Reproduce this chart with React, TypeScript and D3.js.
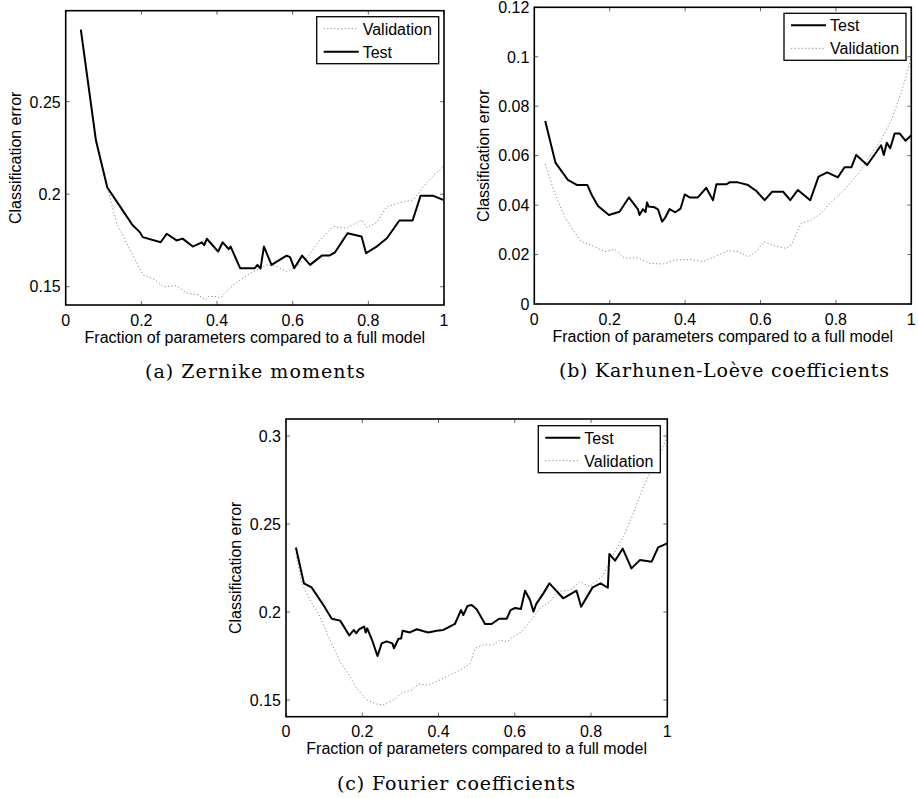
import React from "react";
import * as d3 from "d3";

type Pt = [number, number];

const xTicks = [0, 0.2, 0.4, 0.6, 0.8, 1];

// (a) Zernike moments
const zernikeYTicks = [0.15, 0.2, 0.25];
const zernikeTest: Pt[] = [
  [0.04, 0.289], [0.08, 0.229], [0.11, 0.2036], [0.144, 0.1933], [0.177, 0.1832],
  [0.196, 0.1795], [0.2035, 0.1768], [0.251, 0.174], [0.267, 0.1786], [0.293, 0.175],
  [0.309, 0.176], [0.336, 0.1717], [0.36, 0.174], [0.366, 0.1724], [0.373, 0.1759],
  [0.403, 0.169], [0.415, 0.174], [0.431, 0.1703], [0.436, 0.1717], [0.461, 0.16],
  [0.5, 0.16], [0.507, 0.1618], [0.515, 0.1598], [0.524, 0.1717], [0.544, 0.1618],
  [0.584, 0.1668], [0.593, 0.166], [0.604, 0.16], [0.625, 0.1668], [0.646, 0.1618],
  [0.677, 0.1668], [0.697, 0.1668], [0.712, 0.1686], [0.745, 0.1789], [0.782, 0.1771],
  [0.794, 0.1681], [0.822, 0.1717], [0.849, 0.1762], [0.882, 0.1858], [0.917, 0.1858],
  [0.938, 0.1991], [0.972, 0.1991], [0.998, 0.1969],
];
const zernikeValidation: Pt[] = [
  [0.04, 0.289], [0.08, 0.229], [0.11, 0.2036], [0.135, 0.1843], [0.161, 0.1735],
  [0.188, 0.1627], [0.205, 0.1564], [0.236, 0.1537], [0.258, 0.15], [0.293, 0.1505],
  [0.32, 0.1465], [0.351, 0.1456], [0.368, 0.1429], [0.377, 0.1447], [0.399, 0.1447],
  [0.408, 0.1438], [0.434, 0.1492], [0.461, 0.1537], [0.496, 0.1582], [0.531, 0.1618],
  [0.558, 0.1609], [0.584, 0.1582], [0.602, 0.16], [0.637, 0.1654], [0.672, 0.1753],
  [0.707, 0.1825], [0.743, 0.1816], [0.782, 0.1861], [0.796, 0.182], [0.822, 0.1847],
  [0.849, 0.1933], [0.884, 0.1955], [0.919, 0.1969], [0.945, 0.2041], [0.972, 0.2099],
  [0.998, 0.215],
];

// (b) Karhunen-Loève coefficients
const klYTicks = [0, 0.02, 0.04, 0.06, 0.08, 0.1, 0.12];
const klTest: Pt[] = [
  [0.029, 0.074], [0.056, 0.0572], [0.089, 0.0502], [0.114, 0.0481], [0.141, 0.0481],
  [0.151, 0.0445], [0.169, 0.0396], [0.198, 0.036], [0.226, 0.0373], [0.251, 0.0431],
  [0.275, 0.0383], [0.279, 0.036], [0.288, 0.0383], [0.295, 0.0372], [0.299, 0.0411],
  [0.303, 0.0394], [0.319, 0.0391], [0.328, 0.0383], [0.339, 0.0333], [0.346, 0.0346],
  [0.359, 0.0384], [0.374, 0.0371], [0.388, 0.0386], [0.399, 0.0443], [0.412, 0.0431],
  [0.434, 0.0431], [0.456, 0.047], [0.474, 0.042], [0.483, 0.0484], [0.509, 0.0484],
  [0.518, 0.0492], [0.54, 0.0492], [0.567, 0.0481], [0.589, 0.0457], [0.611, 0.042],
  [0.631, 0.0454], [0.66, 0.0454], [0.679, 0.042], [0.699, 0.0461], [0.732, 0.042],
  [0.754, 0.0515], [0.777, 0.0532], [0.805, 0.0512], [0.823, 0.0553], [0.841, 0.0553],
  [0.854, 0.0603], [0.883, 0.0562], [0.92, 0.0642], [0.927, 0.0603], [0.935, 0.0652],
  [0.944, 0.063], [0.956, 0.069], [0.969, 0.069], [0.985, 0.066], [1.0, 0.0683],
];
const klValidation: Pt[] = [
  [0.029, 0.0566], [0.054, 0.0448], [0.08, 0.0353], [0.103, 0.0299], [0.125, 0.0252],
  [0.16, 0.0232], [0.187, 0.0212], [0.213, 0.0221], [0.24, 0.0185], [0.275, 0.0187],
  [0.306, 0.0164], [0.346, 0.0162], [0.372, 0.0178], [0.416, 0.018], [0.447, 0.0171],
  [0.478, 0.0191], [0.514, 0.0216], [0.54, 0.0212], [0.567, 0.0191], [0.589, 0.0212],
  [0.609, 0.0252], [0.637, 0.0235], [0.668, 0.0225], [0.682, 0.0239], [0.708, 0.0326],
  [0.735, 0.034], [0.761, 0.0367], [0.783, 0.0407], [0.814, 0.0448], [0.841, 0.0495],
  [0.867, 0.0542], [0.894, 0.0607], [0.92, 0.0663], [0.947, 0.0744], [0.973, 0.0852],
  [0.987, 0.0926], [1.0, 0.1],
];

// (c) Fourier coefficients
const fourierYTicks = [0.15, 0.2, 0.25, 0.3];
const fourierTest: Pt[] = [
  [0.026, 0.2367], [0.047, 0.2163], [0.067, 0.214], [0.098, 0.204], [0.12, 0.1962],
  [0.142, 0.1951], [0.166, 0.1867], [0.178, 0.1898], [0.184, 0.1879], [0.192, 0.1902],
  [0.205, 0.1917], [0.209, 0.1883], [0.213, 0.1907], [0.225, 0.1845], [0.24, 0.175],
  [0.251, 0.1822], [0.264, 0.1833], [0.279, 0.1822], [0.283, 0.1794], [0.295, 0.1848],
  [0.302, 0.185], [0.306, 0.1894], [0.325, 0.1884], [0.343, 0.1902], [0.373, 0.1884],
  [0.395, 0.1894], [0.413, 0.1898], [0.443, 0.1932], [0.459, 0.2011], [0.465, 0.1983],
  [0.476, 0.2034], [0.487, 0.204], [0.5, 0.2015], [0.522, 0.1932], [0.539, 0.1932],
  [0.559, 0.1962], [0.579, 0.1962], [0.589, 0.2011], [0.601, 0.2023], [0.616, 0.2017],
  [0.627, 0.2121], [0.64, 0.2068], [0.649, 0.2002], [0.656, 0.2045], [0.675, 0.2106],
  [0.691, 0.2163], [0.727, 0.2078], [0.762, 0.2121], [0.774, 0.203], [0.804, 0.214],
  [0.825, 0.2163], [0.844, 0.2138], [0.848, 0.233], [0.863, 0.2292], [0.883, 0.236],
  [0.906, 0.2248], [0.928, 0.2295], [0.959, 0.2286], [0.976, 0.2367], [1.0, 0.239],
];
const fourierValidation: Pt[] = [
  [0.026, 0.2333], [0.041, 0.2163], [0.063, 0.2068], [0.089, 0.1973], [0.115, 0.1841],
  [0.142, 0.1718], [0.168, 0.1633], [0.185, 0.1566], [0.212, 0.15], [0.238, 0.1477],
  [0.255, 0.1472], [0.281, 0.15], [0.303, 0.1538], [0.33, 0.1557], [0.347, 0.1591],
  [0.373, 0.1585], [0.404, 0.1614], [0.43, 0.1642], [0.465, 0.168], [0.483, 0.1708],
  [0.496, 0.1794], [0.517, 0.1813], [0.544, 0.1813], [0.561, 0.1841], [0.579, 0.183],
  [0.596, 0.186], [0.618, 0.1888], [0.644, 0.1958], [0.666, 0.2021], [0.692, 0.2059],
  [0.714, 0.2116], [0.745, 0.2125], [0.771, 0.2172], [0.797, 0.2144], [0.832, 0.221],
  [0.858, 0.2324], [0.885, 0.2428], [0.911, 0.2561], [0.937, 0.2712], [0.963, 0.2826],
  [0.981, 0.2902], [1.0, 0.2996],
];

const SANS = "'Liberation Sans', Arial, Helvetica, sans-serif";
const SERIF = "'DejaVu Serif', serif";
const fmt = d3.format("~g");

type PanelProps = {
  left: number;
  top: number;
  right: number;
  bottom: number;
  yDomain: [number, number];
  yTicks: number[];
  test: Pt[];
  validation: Pt[];
  validationFirst: boolean;
  legendX: number;
  legendY: number;
  caption: string;
  captionX: number;
  captionY: number;
  captionWidth: number;
};

const Panel = (p: PanelProps) => {
  const x = d3.scaleLinear().domain([0, 1]).range([p.left, p.right]);
  const y = d3.scaleLinear().domain(p.yDomain).range([p.bottom, p.top]);
  const line = d3
    .line<Pt>()
    .x((d) => x(d[0]))
    .y((d) => y(d[1]));
  const tickLen = 4;
  const midY = (p.top + p.bottom) / 2;

  const rows = p.validationFirst
    ? [{ name: "Validation", dotted: true }, { name: "Test", dotted: false }]
    : [{ name: "Test", dotted: false }, { name: "Validation", dotted: true }];

  return (
    <g>
      {/* ticks, inside on all four sides */}
      {xTicks.map((t) => (
        <g key={"xt" + t} stroke="#444" strokeWidth={0.8}>
          <line x1={x(t)} x2={x(t)} y1={p.bottom} y2={p.bottom - tickLen} />
          <line x1={x(t)} x2={x(t)} y1={p.top} y2={p.top + tickLen} />
        </g>
      ))}
      {p.yTicks.map((t) => (
        <g key={"yt" + t} stroke="#444" strokeWidth={0.8}>
          <line x1={p.left} x2={p.left + tickLen} y1={y(t)} y2={y(t)} />
          <line x1={p.right} x2={p.right - tickLen} y1={y(t)} y2={y(t)} />
        </g>
      ))}

      {/* data */}
      <path
        d={line(p.validation) ?? ""}
        fill="none"
        stroke="#8a8a8a"
        strokeWidth={1}
        strokeDasharray="1.2,2.3"
      />
      <path
        d={line(p.test) ?? ""}
        fill="none"
        stroke="#000"
        strokeWidth={2}
        strokeLinejoin="round"
      />

      {/* frame */}
      <rect
        x={p.left}
        y={p.top}
        width={p.right - p.left}
        height={p.bottom - p.top}
        fill="none"
        stroke="#000"
        strokeWidth={1.6}
      />

      {/* tick labels */}
      {xTicks.map((t) => (
        <text
          key={"xl" + t}
          x={x(t)}
          y={p.bottom + 20.5}
          textAnchor="middle"
          fontFamily={SANS}
          fontSize={16}
        >
          {fmt(t)}
        </text>
      ))}
      {p.yTicks.map((t) => (
        <text
          key={"yl" + t}
          x={p.left - 5}
          y={y(t) + 5.8}
          textAnchor="end"
          fontFamily={SANS}
          fontSize={16}
        >
          {fmt(t)}
        </text>
      ))}

      {/* axis labels */}
      <text
        x={(p.left + p.right) / 2}
        y={p.bottom + 37.5}
        textAnchor="middle"
        fontFamily={SANS}
        fontSize={16}
      >
        Fraction of parameters compared to a full model
      </text>
      <text
        transform={`translate(${p.left - 45},${midY}) rotate(-90)`}
        textAnchor="middle"
        fontFamily={SANS}
        fontSize={16}
      >
        Classification error
      </text>

      {/* legend */}
      <rect
        x={p.legendX}
        y={p.legendY}
        width={122}
        height={47}
        fill="#fff"
        stroke="#000"
        strokeWidth={1.3}
      />
      {rows.map((r, i) => {
        const ly = p.legendY + 12 + i * 23;
        return (
          <g key={r.name}>
            <line
              x1={p.legendX + 7}
              x2={p.legendX + 42}
              y1={ly}
              y2={ly}
              stroke={r.dotted ? "#8a8a8a" : "#000"}
              strokeWidth={r.dotted ? 1 : 2}
              strokeDasharray={r.dotted ? "1.2,2.3" : undefined}
            />
            <text
              x={p.legendX + 46}
              y={ly + 6}
              fontFamily={SANS}
              fontSize={16}
            >
              {r.name}
            </text>
          </g>
        );
      })}

      {/* caption */}
      <text
        x={p.captionX}
        y={p.captionY}
        textAnchor="middle"
        fontFamily={SERIF}
        fontSize={19}
        textLength={p.captionWidth}
        lengthAdjust="spacing"
      >
        {p.caption}
      </text>
    </g>
  );
};

export default function App() {
  return (
    <svg
      width={918}
      height={798}
      style={{ position: "absolute", left: 0, top: 0, background: "#fff" }}
    >
      <Panel
        left={65.7}
        top={10.7}
        right={444}
        bottom={305}
        yDomain={[0.1401, 0.2992]}
        yTicks={zernikeYTicks}
        test={zernikeTest}
        validation={zernikeValidation}
        validationFirst={true}
        legendX={316.7}
        legendY={16.7}
        caption="(a) Zernike moments"
        captionX={255}
        captionY={378}
        captionWidth={220}
      />
      <Panel
        left={534.3}
        top={7.3}
        right={911.3}
        bottom={304}
        yDomain={[0, 0.12]}
        yTicks={klYTicks}
        test={klTest}
        validation={klValidation}
        validationFirst={false}
        legendX={784}
        legendY={13.3}
        caption="(b) Karhunen-Loève coefficients"
        captionX={724}
        captionY={377}
        captionWidth={330}
      />
      <Panel
        left={286}
        top={419}
        right={667.3}
        bottom={716.7}
        yDomain={[0.1405, 0.3097]}
        yTicks={fourierYTicks}
        test={fourierTest}
        validation={fourierValidation}
        validationFirst={false}
        legendX={538.3}
        legendY={425.7}
        caption="(c) Fourier coefficients"
        captionX={456}
        captionY={790}
        captionWidth={238}
      />
    </svg>
  );
}
